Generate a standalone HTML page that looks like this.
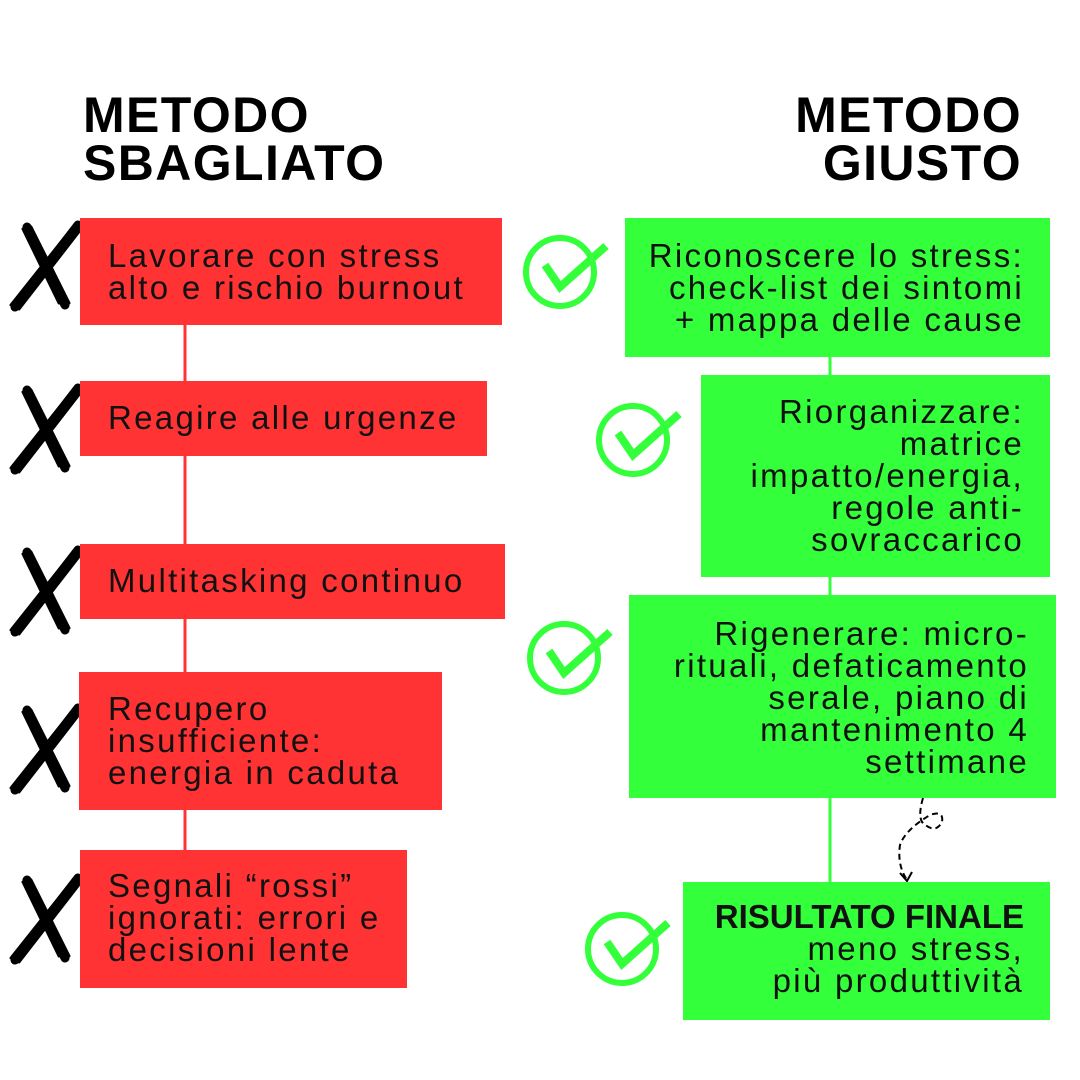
<!DOCTYPE html>
<html><head><meta charset="utf-8"><style>
body{margin:0;width:1080px;height:1080px;background:#fff;position:relative;overflow:hidden;font-family:"Liberation Sans",sans-serif;}
.b{position:absolute}
.r{background:#ff3333}
.g{background:#33ff3a}
.t{position:absolute;font-size:33px;line-height:32px;letter-spacing:2.3px;color:#111;white-space:nowrap}
.tr{text-align:right}
.h{position:absolute;font-weight:bold;font-size:50px;line-height:48px;letter-spacing:1.4px;color:#000}
</style></head><body>
<svg class="b" style="left:0;top:0" width="1080" height="1080">
<g stroke="#ff3333" stroke-width="3"><line x1="185" y1="325" x2="185" y2="381"/><line x1="185" y1="456" x2="185" y2="544"/><line x1="185" y1="619" x2="185" y2="672"/><line x1="185" y1="810" x2="185" y2="850"/></g>
<g stroke="#33ff3a" stroke-width="3"><line x1="830" y1="357" x2="830" y2="375"/><line x1="830" y1="577" x2="830" y2="595"/><line x1="830" y1="798" x2="830" y2="882"/></g>
<g fill="none" stroke="#000" stroke-width="2" stroke-dasharray="6,4"><path d="M923 798 Q918 815 922 822 Q935 835 942 822 Q944 810 930 815 Q905 830 900 845 Q897 865 907 880"/><path d="M900 873 L907 881 L912 872" stroke-dasharray="none"/></g>
<defs>
<g id="x" stroke="#000" stroke-linecap="round"><line x1="-18" y1="-38" x2="20" y2="40" stroke-width="9"/><line x1="-22" y1="-36" x2="14" y2="38" stroke-width="3"/><line x1="-14" y1="-38" x2="24" y2="38" stroke-width="3"/><line x1="33" y1="-40" x2="-30" y2="42" stroke-width="9"/><line x1="28" y1="-38" x2="-34" y2="40" stroke-width="3"/><line x1="36" y1="-36" x2="-26" y2="44" stroke-width="3"/></g>
<g id="c" fill="none" stroke="#33ff3a" stroke-width="6"><circle cx="0" cy="0" r="34"/><path d="M-15 -7 L0 15 L46 -26" stroke-width="8" stroke-linejoin="miter"/></g>
</defs>
<use href="#x" x="45" y="265"/><use href="#x" x="45" y="428"/><use href="#x" x="45" y="590"/><use href="#x" x="45" y="748"/><use href="#x" x="45" y="918"/>
<use href="#c" x="560" y="272"/><use href="#c" x="633" y="440"/><use href="#c" x="564" y="658"/><use href="#c" x="622" y="949"/>
</svg>
<div class="h" style="left:83px;top:91px">METODO<br>SBAGLIATO</div>
<div class="h" style="right:58px;top:91px;text-align:right">METODO<br>GIUSTO</div>

<div class="b r" style="left:80px;top:218px;width:422px;height:107px"></div>
<div class="b r" style="left:80px;top:381px;width:407px;height:75px"></div>
<div class="b r" style="left:80px;top:544px;width:425px;height:75px"></div>
<div class="b r" style="left:79px;top:672px;width:363px;height:138px"></div>
<div class="b r" style="left:80px;top:850px;width:327px;height:138px"></div>
<div class="t" style="left:108px;top:240px">Lavorare con stress<br>alto e rischio burnout</div>
<div class="t" style="left:108px;top:402px">Reagire alle urgenze</div>
<div class="t" style="left:108px;top:565px">Multitasking continuo</div>
<div class="t" style="left:108px;top:693px">Recupero<br>insufficiente:<br>energia in caduta</div>
<div class="t" style="left:108px;top:870px">Segnali “rossi”<br>ignorati: errori e<br>decisioni lente</div>

<div class="b g" style="left:625px;top:218px;width:425px;height:139px"></div>
<div class="b g" style="left:701px;top:375px;width:349px;height:202px"></div>
<div class="b g" style="left:629px;top:595px;width:427px;height:203px"></div>
<div class="b g" style="left:683px;top:882px;width:367px;height:138px"></div>
<div class="t tr" style="right:56px;top:240px">Riconoscere lo stress:<br>check-list dei sintomi<br>+ mappa delle cause</div>
<div class="t tr" style="right:56px;top:396px">Riorganizzare:<br>matrice<br>impatto/energia,<br>regole anti-<br>sovraccarico</div>
<div class="t tr" style="right:51px;top:618px">Rigenerare: micro-<br>rituali, defaticamento<br>serale, piano di<br>mantenimento 4<br>settimane</div>
<div class="t tr" style="right:56px;top:901px"><b style="letter-spacing:0">RISULTATO FINALE</b><br>meno stress,<br>più produttività</div>
</body></html>
